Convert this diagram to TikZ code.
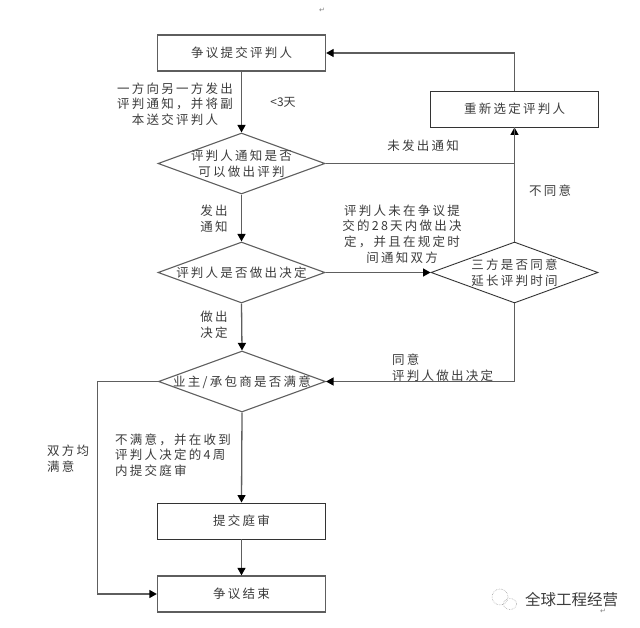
\documentclass[tikz,border=0pt]{standalone}
\usepackage{fontspec}
\setmainfont{Noto Sans CJK SC}[LetterSpace=18]
\newfontfamily\plainfont{Noto Sans CJK SC}
\newfontfamily\symfont{DejaVu Sans}
\usetikzlibrary{shapes.geometric,arrows.meta}
\definecolor{inkline}{HTML}{5E5E5E}
\definecolor{inkdark}{HTML}{333333}
\definecolor{inktext}{HTML}{3C3C3C}
\newcommand{\ztext}[1]{\smash{\makebox[0pt]{\raisebox{-5pt}{\begin{tabular}{@{}c@{}}#1\end{tabular}}}}}
\tikzset{
  x=1pt,y=-1pt,
  txt/.style={font=\fontsize{12.5}{15.7}\selectfont,text=inktext,inner sep=0pt,align=center},
  ltxt/.style={txt,align=left,anchor=west},
  procbox/.style={draw=inkline,line width=1.3pt,minimum width=168pt,minimum height=36pt,inner sep=0pt,txt},
  procdark/.style={procbox,draw=inkdark,line width=0.9pt},
  dec/.style={shape=diamond,draw=inkline,line width=1.1pt,minimum width=167pt,minimum height=61pt,inner sep=0pt,txt},
  decdark/.style={dec,draw=inkdark,line width=0.9pt},
  conn/.style={draw=inkline,line width=1.3pt},
  arr/.style={conn,-{Triangle[length=7.5pt,width=8pt,color=black]}}
}
\begin{document}
\begin{tikzpicture}
\useasboundingbox[fill=white] (0,0) rectangle (640,628);
\node[procbox] (b1) at (241.5,53) {争议提交评判人};
\node[procdark] (b2) at (514.5,109) {重新选定评判人};
\node[dec] (d1) at (241.5,163.5) {\ztext{评判人通知是否\\可以做出评判}};
\node[dec] (d2) at (241.5,272.5) {\ztext{评判人是否做出决定}};
\node[decdark] (d3) at (514.5,272.5) {\ztext{三方是否同意\\延长评判时间}};
\node[dec] (d4) at (242,381.5) {\ztext{业主/承包商是否满意}};
\node[procdark] (b3) at (241.5,521) {提交庭审};
\node[procbox] (b4) at (241.5,594) {争议结束};
\coordinate (lft) at (97.5,381.5);
\draw[arr] (b1.south) -- (d1.north);
\draw[arr] (d1.south) -- (d2.north);
\draw[arr] (d2.south) -- (d4.north);
\draw[arr] (d4.south) -- (b3.north);
\draw[arr] (b3.south) -- (b4.north);
\draw[arr] (d2.east) -- (d3.west);
\draw[arr] (d3.north) -- (b2.south);
\draw[conn] (d1.east) -| (b2.south);
\draw[arr] (b2.north) |- (b1.east);
\draw[arr] (d3.south) |- (d4.east);
\draw[arr] (d4.west) -- (lft) |- (b4.west);
\node[txt] (l1) at (175,104) {一方向另一方发出\\评判通知，并将副\\本送交评判人};
\node[txt,font=\plainfont\fontsize{12}{15.7}\selectfont] (l2) at (283,102) {<3天};
\node[txt] (l3) at (214,219) {发出\\通知};
\node[txt] (l4) at (423,146) {未发出通知};
\node[txt] (l5) at (550,191) {不同意};
\node[txt] (l6) at (402,234) {评判人未在争议提\\交的28天内做出决\\定，并且在规定时\\间通知双方};
\node[ltxt] (l7) at (392,368) {同意\\评判人做出决定};
\node[txt] (l8) at (214,325) {做出\\决定};
\node[ltxt] (l9) at (47,459) {双方均\\满意};
\node[ltxt] (l10) at (115,455) {不满意，并在收到\\评判人决定的4周\\内提交庭审};
\node[text=gray,font=\symfont\fontsize{7}{8}\selectfont,inner sep=0pt] (m1) at (322,10) {↵};
\node[text=inktext,font=\plainfont\fontsize{15.5}{17}\selectfont,inner sep=0pt,anchor=west] (wm) at (525,600) {全球工程经营};
\node[text=gray,font=\symfont\fontsize{7}{8}\selectfont,inner sep=0pt] (m2) at (603,611) {↵};
\draw[gray!70,densely dotted,line width=.6pt] (500,597) circle (8);
\draw[gray!70,densely dotted,line width=.6pt] (510,604) ellipse (6.5 and 5.5);
\end{tikzpicture}
\end{document}
